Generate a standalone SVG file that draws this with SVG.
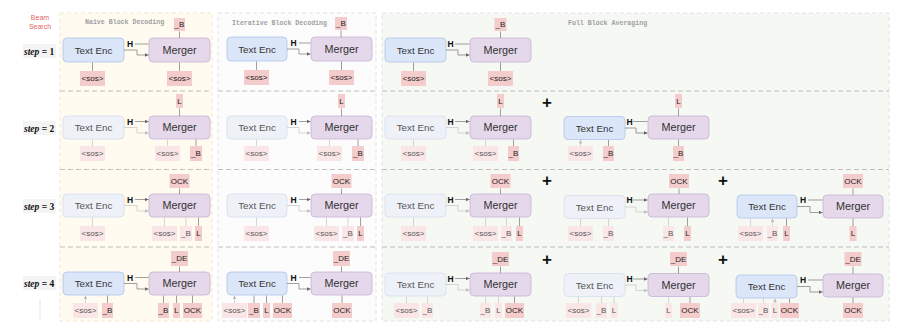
<svg xmlns="http://www.w3.org/2000/svg" width="909" height="329" viewBox="0 0 909 329">
<defs>
<marker id="a" viewBox="0 0 6 6" refX="6" refY="3" markerWidth="3.6" markerHeight="3.6" markerUnits="userSpaceOnUse" orient="auto"><path d="M0,0L6,3L0,6z" fill="#666"/></marker>
<marker id="af" viewBox="0 0 6 6" refX="6" refY="3" markerWidth="3.6" markerHeight="3.6" markerUnits="userSpaceOnUse" orient="auto"><path d="M0,0L6,3L0,6z" fill="#bbb"/></marker>
</defs>
<style>
.te{fill:#dbe6f8;stroke:#aec4ea;stroke-width:.8}
.tef{fill:#eef2f8;stroke:#d3deec;stroke-width:.8}
.mg{fill:#e4d8ea;stroke:#c7b3d5;stroke-width:.8}
.tk{fill:#f4cccc}
.tkf{fill:#fae6e6}
.nl{font-family:"Liberation Sans",Arial,sans-serif;font-size:9.8px;fill:#333;text-anchor:middle}
.nf{fill:#555}
.ml{font-size:10.8px}
.t{font-family:"Liberation Sans",Arial,sans-serif;font-size:8px;fill:#222;text-anchor:middle}
.tf{fill:#555}
.ar{stroke:#777;stroke-width:.7;fill:none;marker-end:url(#a)}
.arf{stroke:#c4c4c4;stroke-width:.7;fill:none;marker-end:url(#af)}
.h{font-family:"Liberation Sans",Arial,sans-serif;font-weight:bold;font-size:8.5px;fill:#111;text-anchor:middle}
.pt{font-family:"Liberation Mono","Courier New",monospace;font-weight:bold;font-size:6.6px;fill:#a0a0a0}
.div{stroke:#b0b0b0;stroke-width:.8;stroke-dasharray:5,3;fill:none}
.st{font-family:"Liberation Serif","Times New Roman",serif;font-weight:bold;font-size:9.5px;fill:#111}
.plus{font-family:"Liberation Sans",Arial,sans-serif;font-weight:bold;font-size:17px;fill:#111;text-anchor:middle}
.bs{font-family:"Liberation Sans",Arial,sans-serif;font-size:7px;fill:#e46464;text-anchor:middle}
</style>
<rect width="909" height="329" fill="#fff"/>
<g id="panels">
<rect x="60" y="13" width="152" height="308" fill="#fffbf1" stroke="#f1e2c2" stroke-width=".8" stroke-dasharray="4,3"/>
<rect x="218" y="13" width="158" height="308" fill="#fcfcfc" stroke="#dcdcdc" stroke-width=".8" stroke-dasharray="4,3"/>
<rect x="382" y="13" width="507" height="308" fill="#f6f8f4" stroke="#dcdcdc" stroke-width=".8" stroke-dasharray="4,3"/>
<text class="pt" x="85" y="23.5">Naive Block Decoding</text>
<text class="pt" x="232" y="25">Iterative Block Decoding</text>
<text class="pt" x="568" y="25">Full Block Averaging</text>
<path class="div" d="M60,91H212M60,169.5H212M60,247H212M218,91H376M218,169.5H376M218,247H376M382,91H889M382,169.5H889M382,247H889"/>
</g>
<g id="labels">
<text class="bs" x="40" y="20.3">Beam</text>
<text class="bs" x="40" y="28.6">Search</text>
<rect x="23" y="44" width="33" height="14" fill="#f4f4f4"/>
<rect x="23" y="121" width="33" height="14" fill="#f4f4f4"/>
<rect x="23" y="199" width="33" height="14" fill="#f4f4f4"/>
<rect x="23" y="276" width="33" height="14" fill="#f4f4f4"/>
<text class="st" x="24" y="54.5"><tspan font-style="italic">step</tspan> = 1</text>
<text class="st" x="24" y="131.5"><tspan font-style="italic">step</tspan> = 2</text>
<text class="st" x="24" y="209.5"><tspan font-style="italic">step</tspan> = 3</text>
<text class="st" x="24" y="286.5"><tspan font-style="italic">step</tspan> = 4</text>
<path d="M40,300V320" stroke="#bbb" stroke-width="1" stroke-dasharray="1,1.5"/>
<text class="plus" x="547" y="108">+</text>
<text class="plus" x="547" y="186">+</text>
<text class="plus" x="723" y="186">+</text>
<text class="plus" x="547" y="265">+</text>
<text class="plus" x="723" y="265">+</text>
</g>

<g id="r1n-te"><rect class="te" x="63" y="38" width="61" height="24" rx="4"/><text class="nl" x="93.5" y="53.5">Text Enc</text></g>
<g id="r1n-m"><rect class="mg" x="149" y="38" width="61" height="24" rx="4"/><text class="nl ml" x="179.5" y="53.8">Merger</text></g>
<g id="r1n-o"><rect class="tk" x="174" y="18" width="11" height="13"/><text class="t" x="179.5" y="27.4">_B</text></g>
<g id="r1n-i1"><rect class="tk" x="80" y="71" width="25" height="15"/><text class="t" x="92.5" y="81.4">&lt;sos&gt;</text></g>
<g id="r1n-i2"><rect class="tk" x="167" y="71" width="25" height="15"/><text class="t" x="179.5" y="81.4">&lt;sos&gt;</text></g>

<g id="r1i-te"><rect class="te" x="227" y="37" width="60" height="24" rx="4"/><text class="nl" x="257" y="52.5">Text Enc</text></g>
<g id="r1i-m"><rect class="mg" x="311" y="37" width="61" height="24" rx="4"/><text class="nl ml" x="341.5" y="52.8">Merger</text></g>
<g id="r1i-o"><rect class="tk" x="335" y="17" width="12" height="13"/><text class="t" x="341" y="26.4">_B</text></g>
<g id="r1i-i1"><rect class="tk" x="244" y="70" width="25" height="15"/><text class="t" x="256.5" y="80.4">&lt;sos&gt;</text></g>
<g id="r1i-i2"><rect class="tk" x="329" y="70" width="25" height="15"/><text class="t" x="341.5" y="80.4">&lt;sos&gt;</text></g>

<g id="r1f-te"><rect class="te" x="385" y="38" width="61" height="24" rx="4"/><text class="nl" x="415.5" y="53.5">Text Enc</text></g>
<g id="r1f-m"><rect class="mg" x="470" y="38" width="61" height="24" rx="4"/><text class="nl ml" x="500.5" y="53.8">Merger</text></g>
<g id="r1f-o"><rect class="tk" x="494.5" y="18" width="12" height="13"/><text class="t" x="500.5" y="27.4">_B</text></g>
<g id="r1f-i1"><rect class="tk" x="401" y="71" width="25" height="15"/><text class="t" x="413.5" y="81.4">&lt;sos&gt;</text></g>
<g id="r1f-i2"><rect class="tk" x="488" y="71" width="25" height="15"/><text class="t" x="500.5" y="81.4">&lt;sos&gt;</text></g>

<g id="r2n-te"><rect class="tef" x="63" y="116" width="61" height="23" rx="4"/><text class="nl nf" x="93.5" y="131">Text Enc</text></g>
<g id="r2n-m"><rect class="mg" x="149" y="116" width="61" height="23" rx="4"/><text class="nl ml" x="179.5" y="131.3">Merger</text></g>
<g id="r2n-o"><rect class="tk" x="176" y="94" width="7" height="14"/><text class="t" x="179.5" y="103.9">L</text></g>
<g id="r2n-i1"><rect class="tkf" x="80" y="146" width="25" height="15"/><text class="t tf" x="92.5" y="156.4">&lt;sos&gt;</text></g>
<g id="r2n-i2"><rect class="tkf" x="155" y="146" width="25" height="15"/><text class="t tf" x="167.5" y="156.4">&lt;sos&gt;</text></g>
<g id="r2n-i3"><rect class="tk" x="190" y="146" width="12" height="15"/><text class="t" x="196" y="156.4">_B</text></g>

<g id="r2i-te"><rect class="tef" x="227" y="116" width="60" height="23" rx="4"/><text class="nl nf" x="257" y="131">Text Enc</text></g>
<g id="r2i-m"><rect class="mg" x="311" y="116" width="61" height="23" rx="4"/><text class="nl ml" x="341.5" y="131.3">Merger</text></g>
<g id="r2i-o"><rect class="tk" x="338" y="94" width="7" height="14"/><text class="t" x="341.5" y="103.9">L</text></g>
<g id="r2i-i1"><rect class="tkf" x="244" y="146" width="25" height="15"/><text class="t tf" x="256.5" y="156.4">&lt;sos&gt;</text></g>
<g id="r2i-i2"><rect class="tkf" x="317" y="146" width="25" height="15"/><text class="t tf" x="329.5" y="156.4">&lt;sos&gt;</text></g>
<g id="r2i-i3"><rect class="tk" x="352" y="146" width="12" height="15"/><text class="t" x="358" y="156.4">_B</text></g>

<g id="r2f1-te"><rect class="tef" x="385" y="116" width="61" height="23" rx="4"/><text class="nl nf" x="415.5" y="131">Text Enc</text></g>
<g id="r2f1-m"><rect class="mg" x="470" y="116" width="61" height="23" rx="4"/><text class="nl ml" x="500.5" y="131.3">Merger</text></g>
<g id="r2f1-o"><rect class="tk" x="497" y="94" width="7" height="14"/><text class="t" x="500.5" y="103.9">L</text></g>
<g id="r2f1-i1"><rect class="tkf" x="401" y="146" width="25" height="15"/><text class="t tf" x="413.5" y="156.4">&lt;sos&gt;</text></g>
<g id="r2f1-i2"><rect class="tkf" x="473" y="146" width="25" height="15"/><text class="t tf" x="485.5" y="156.4">&lt;sos&gt;</text></g>
<g id="r2f1-i3"><rect class="tk" x="508" y="146" width="11" height="15"/><text class="t" x="513.5" y="156.4">_B</text></g>

<g id="r2f2-te"><rect class="te" x="564" y="116.5" width="61" height="23" rx="4"/><text class="nl" x="594.5" y="131.5">Text Enc</text></g>
<g id="r2f2-m"><rect class="mg" x="648" y="116" width="61" height="23" rx="4"/><text class="nl ml" x="678.5" y="131.3">Merger</text></g>
<g id="r2f2-o"><rect class="tk" x="675" y="94" width="7" height="14"/><text class="t" x="678.5" y="103.9">L</text></g>
<g id="r2f2-i1"><rect class="tkf" x="568" y="146" width="25" height="15"/><text class="t tf" x="580.5" y="156.4">&lt;sos&gt;</text></g>
<g id="r2f2-i2"><rect class="tk" x="603" y="146" width="11" height="15"/><text class="t" x="608.5" y="156.4">_B</text></g>
<g id="r2f2-i3"><rect class="tk" x="673" y="146" width="11" height="15"/><text class="t" x="678.5" y="156.4">_B</text></g>

<g id="r3n-te"><rect class="tef" x="63" y="194" width="61" height="23" rx="4"/><text class="nl nf" x="93.5" y="209">Text Enc</text></g>
<g id="r3n-m"><rect class="mg" x="149" y="194" width="61" height="23" rx="4"/><text class="nl ml" x="179.5" y="209.3">Merger</text></g>
<g id="r3n-o"><rect class="tk" x="169.5" y="174" width="20" height="14"/><text class="t" x="179.5" y="183.9">OCK</text></g>
<g id="r3n-i1"><rect class="tkf" x="80" y="226" width="25" height="15"/><text class="t tf" x="92.5" y="236.4">&lt;sos&gt;</text></g>
<g id="r3n-i2"><rect class="tkf" x="152" y="226" width="25" height="15"/><text class="t tf" x="164.5" y="236.4">&lt;sos&gt;</text></g>
<g id="r3n-i3"><rect class="tkf" x="180" y="226" width="12" height="15"/><text class="t tf" x="186" y="236.4">_B</text></g>
<g id="r3n-i4"><rect class="tk" x="195" y="226" width="7" height="15"/><text class="t" x="198.5" y="236.4">L</text></g>

<g id="r3i-te"><rect class="tef" x="227" y="194" width="60" height="23" rx="4"/><text class="nl nf" x="257" y="209">Text Enc</text></g>
<g id="r3i-m"><rect class="mg" x="311" y="194" width="61" height="23" rx="4"/><text class="nl ml" x="341.5" y="209.3">Merger</text></g>
<g id="r3i-o"><rect class="tk" x="331.5" y="174" width="20" height="14"/><text class="t" x="341.5" y="183.9">OCK</text></g>
<g id="r3i-i1"><rect class="tkf" x="244" y="226" width="25" height="15"/><text class="t tf" x="256.5" y="236.4">&lt;sos&gt;</text></g>
<g id="r3i-i2"><rect class="tkf" x="314" y="226" width="25" height="15"/><text class="t tf" x="326.5" y="236.4">&lt;sos&gt;</text></g>
<g id="r3i-i3"><rect class="tkf" x="342" y="226" width="12" height="15"/><text class="t tf" x="348" y="236.4">_B</text></g>
<g id="r3i-i4"><rect class="tk" x="357" y="226" width="7" height="15"/><text class="t" x="360.5" y="236.4">L</text></g>

<g id="r3f1-te"><rect class="tef" x="385" y="194" width="61" height="23" rx="4"/><text class="nl nf" x="415.5" y="209">Text Enc</text></g>
<g id="r3f1-m"><rect class="mg" x="470" y="194" width="61" height="23" rx="4"/><text class="nl ml" x="500.5" y="209.3">Merger</text></g>
<g id="r3f1-o"><rect class="tk" x="490.5" y="174" width="20" height="14"/><text class="t" x="500.5" y="183.9">OCK</text></g>
<g id="r3f1-i1"><rect class="tkf" x="401" y="226" width="25" height="15"/><text class="t tf" x="413.5" y="236.4">&lt;sos&gt;</text></g>
<g id="r3f1-i2"><rect class="tkf" x="473" y="226" width="25" height="15"/><text class="t tf" x="485.5" y="236.4">&lt;sos&gt;</text></g>
<g id="r3f1-i3"><rect class="tkf" x="501" y="226" width="11" height="15"/><text class="t tf" x="506.5" y="236.4">_B</text></g>
<g id="r3f1-i4"><rect class="tk" x="516" y="226" width="7" height="15"/><text class="t" x="519.5" y="236.4">L</text></g>

<g id="r3f2-te"><rect class="tef" x="564" y="195.5" width="61" height="23" rx="4"/><text class="nl nf" x="594.5" y="210.5">Text Enc</text></g>
<g id="r3f2-m"><rect class="mg" x="648" y="194" width="61" height="23" rx="4"/><text class="nl ml" x="678.5" y="209.3">Merger</text></g>
<g id="r3f2-o"><rect class="tk" x="669" y="174" width="20" height="14"/><text class="t" x="679" y="183.9">OCK</text></g>
<g id="r3f2-i1"><rect class="tkf" x="568" y="226" width="25" height="15"/><text class="t tf" x="580.5" y="236.4">&lt;sos&gt;</text></g>
<g id="r3f2-i2"><rect class="tkf" x="603" y="226" width="11" height="15"/><text class="t tf" x="608.5" y="236.4">_B</text></g>
<g id="r3f2-i3"><rect class="tkf" x="663" y="226" width="11" height="15"/><text class="t tf" x="668.5" y="236.4">_B</text></g>
<g id="r3f2-i4"><rect class="tk" x="684" y="226" width="7" height="15"/><text class="t" x="687.5" y="236.4">L</text></g>

<g id="r3f3-te"><rect class="te" x="737" y="195" width="60" height="23" rx="4"/><text class="nl" x="767" y="210">Text Enc</text></g>
<g id="r3f3-m"><rect class="mg" x="823" y="195" width="60" height="23" rx="4"/><text class="nl ml" x="853" y="210.3">Merger</text></g>
<g id="r3f3-o"><rect class="tk" x="843" y="174" width="20" height="14"/><text class="t" x="853" y="183.9">OCK</text></g>
<g id="r3f3-i1"><rect class="tkf" x="738" y="226" width="25" height="15"/><text class="t tf" x="750.5" y="236.4">&lt;sos&gt;</text></g>
<g id="r3f3-i2"><rect class="tkf" x="767" y="226" width="11" height="15"/><text class="t tf" x="772.5" y="236.4">_B</text></g>
<g id="r3f3-i3"><rect class="tk" x="783" y="226" width="7" height="15"/><text class="t" x="786.5" y="236.4">L</text></g>
<g id="r3f3-i4"><rect class="tk" x="849.5" y="226" width="7" height="15"/><text class="t" x="853" y="236.4">L</text></g>

<g id="r4n-te"><rect class="te" x="63" y="272" width="61" height="23" rx="4"/><text class="nl" x="93.5" y="287">Text Enc</text></g>
<g id="r4n-m"><rect class="mg" x="149" y="272" width="61" height="23" rx="4"/><text class="nl ml" x="179.5" y="287.3">Merger</text></g>
<g id="r4n-o"><rect class="tk" x="171" y="251" width="17" height="15"/><text class="t" x="179.5" y="261.4">_DE</text></g>
<g id="r4n-i1"><rect class="tkf" x="73" y="303" width="25" height="15"/><text class="t tf" x="85.5" y="313.4">&lt;sos&gt;</text></g>
<g id="r4n-i2"><rect class="tk" x="102" y="303" width="11" height="15"/><text class="t" x="107.5" y="313.4">_B</text></g>
<g id="r4n-i3"><rect class="tk" x="158" y="303" width="11" height="15"/><text class="t" x="163.5" y="313.4">_B</text></g>
<g id="r4n-i4"><rect class="tk" x="173" y="303" width="7" height="15"/><text class="t" x="176.5" y="313.4">L</text></g>
<g id="r4n-i5"><rect class="tk" x="183" y="303" width="19" height="15"/><text class="t" x="192.5" y="313.4">OCK</text></g>

<g id="r4i-te"><rect class="te" x="227" y="272" width="60" height="23" rx="4"/><text class="nl" x="257" y="287">Text Enc</text></g>
<g id="r4i-m"><rect class="mg" x="311" y="272" width="61" height="23" rx="4"/><text class="nl ml" x="341.5" y="287.3">Merger</text></g>
<g id="r4i-o"><rect class="tk" x="333" y="251" width="17" height="15"/><text class="t" x="341.5" y="261.4">_DE</text></g>
<g id="r4i-i1"><rect class="tkf" x="222" y="303" width="25" height="15"/><text class="t tf" x="234.5" y="313.4">&lt;sos&gt;</text></g>
<g id="r4i-i2"><rect class="tk" x="248" y="303" width="12" height="15"/><text class="t" x="254" y="313.4">_B</text></g>
<g id="r4i-i3"><rect class="tk" x="263" y="303" width="7" height="15"/><text class="t" x="266.5" y="313.4">L</text></g>
<g id="r4i-i4"><rect class="tk" x="273" y="303" width="19" height="15"/><text class="t" x="282.5" y="313.4">OCK</text></g>
<g id="r4i-i5"><rect class="tk" x="332" y="303" width="20" height="15"/><text class="t" x="342" y="313.4">OCK</text></g>

<g id="r4f1-te"><rect class="tef" x="385" y="273" width="61" height="23" rx="4"/><text class="nl nf" x="415.5" y="288">Text Enc</text></g>
<g id="r4f1-m"><rect class="mg" x="470" y="273" width="61" height="23" rx="4"/><text class="nl ml" x="500.5" y="288.3">Merger</text></g>
<g id="r4f1-o"><rect class="tk" x="492" y="252" width="17" height="14"/><text class="t" x="500.5" y="261.9">_DE</text></g>
<g id="r4f1-i1"><rect class="tkf" x="394" y="303" width="25" height="15"/><text class="t tf" x="406.5" y="313.4">&lt;sos&gt;</text></g>
<g id="r4f1-i2"><rect class="tkf" x="422" y="303" width="11" height="15"/><text class="t tf" x="427.5" y="313.4">_B</text></g>
<g id="r4f1-i3"><rect class="tkf" x="480" y="303" width="11" height="15"/><text class="t tf" x="485.5" y="313.4">_B</text></g>
<g id="r4f1-i4"><rect class="tkf" x="495" y="303" width="7" height="15"/><text class="t tf" x="498.5" y="313.4">L</text></g>
<g id="r4f1-i5"><rect class="tk" x="505" y="303" width="19" height="15"/><text class="t" x="514.5" y="313.4">OCK</text></g>

<g id="r4f2-te"><rect class="tef" x="564" y="273.5" width="61" height="23" rx="4"/><text class="nl nf" x="594.5" y="288.5">Text Enc</text></g>
<g id="r4f2-m"><rect class="mg" x="648" y="273.5" width="61" height="23" rx="4"/><text class="nl ml" x="678.5" y="288.8">Merger</text></g>
<g id="r4f2-o"><rect class="tk" x="670" y="252" width="17" height="14"/><text class="t" x="678.5" y="261.9">_DE</text></g>
<g id="r4f2-i1"><rect class="tkf" x="566" y="303" width="25" height="15"/><text class="t tf" x="578.5" y="313.4">&lt;sos&gt;</text></g>
<g id="r4f2-i2"><rect class="tkf" x="596" y="303" width="11" height="15"/><text class="t tf" x="601.5" y="313.4">_B</text></g>
<g id="r4f2-i3"><rect class="tkf" x="610.5" y="303" width="7" height="15"/><text class="t tf" x="614" y="313.4">L</text></g>
<g id="r4f2-i4"><rect class="tkf" x="665" y="303" width="7" height="15"/><text class="t tf" x="668.5" y="313.4">L</text></g>
<g id="r4f2-i5"><rect class="tk" x="680" y="303" width="20" height="15"/><text class="t" x="690" y="313.4">OCK</text></g>

<g id="r4f3-te"><rect class="te" x="736" y="275" width="61" height="23" rx="4"/><text class="nl" x="766.5" y="290">Text Enc</text></g>
<g id="r4f3-m"><rect class="mg" x="823" y="274" width="60" height="23" rx="4"/><text class="nl ml" x="853" y="289.3">Merger</text></g>
<g id="r4f3-o"><rect class="tk" x="844.5" y="252" width="17" height="14"/><text class="t" x="853" y="261.9">_DE</text></g>
<g id="r4f3-i1"><rect class="tkf" x="731" y="303" width="25" height="15"/><text class="t tf" x="743.5" y="313.4">&lt;sos&gt;</text></g>
<g id="r4f3-i2"><rect class="tkf" x="758" y="303" width="11" height="15"/><text class="t tf" x="763.5" y="313.4">_B</text></g>
<g id="r4f3-i3"><rect class="tkf" x="771.5" y="303" width="7" height="15"/><text class="t tf" x="775" y="313.4">L</text></g>
<g id="r4f3-i4"><rect class="tk" x="780" y="303" width="19" height="15"/><text class="t" x="789.5" y="313.4">OCK</text></g>
<g id="r4f3-i5"><rect class="tk" x="843" y="303" width="20" height="15"/><text class="t" x="853" y="313.4">OCK</text></g>

<g id="connectors">
<path class="ar" d="M179.5,38V31.5M92.5,71V62.5M179.5,71V62.5M135,44H148.5M124,50H137V55H148.5"/>
<path class="ar" d="M341,37V30.5M256.5,70V61.5M341.5,70V61.5M299,43H310.5M287,49H299V54H310.5"/>
<path class="ar" d="M500.5,38V31.5M413.5,71V62.5M500.5,71V62.5M455,44H469.5M446,50H458V55H469.5"/>
<path class="ar" d="M179.5,116V108.5M196,146V139.5M135,121.5H148.5"/>
<path class="arf" d="M92.5,146V139.5M167.5,146V139.5M124,127.5H137V133H148.5"/>
<path class="ar" d="M341.5,116V108.5M358,146V139.5M299,121.5H310.5"/>
<path class="arf" d="M256.5,146V139.5M329.5,146V139.5M287,127.5H299V133H310.5"/>
<path class="ar" d="M500.5,116V108.5M513.5,146V139.5M455,121.5H469.5"/>
<path class="arf" d="M413.5,146V139.5M485.5,146V139.5M446,127.5H458V133H469.5"/>
<path class="ar" d="M678.5,116V108.5M608.5,146V140M678.5,146V139.5M633,121.5H647.5M625,128H636V133H647.5"/>
<path class="arf" d="M580.5,146V140"/>
<path class="ar" d="M179.5,194V188.5M198.5,226V217.5M135,199.5H148.5"/>
<path class="arf" d="M92.5,226V217.5M164.5,226V217.5M186,226V217.5M124,205.5H137V211H148.5"/>
<path class="ar" d="M341.5,194V188.5M360.5,226V217.5M299,199.5H310.5"/>
<path class="arf" d="M256.5,226V217.5M326.5,226V217.5M348,226V217.5M287,205.5H299V211H310.5"/>
<path class="ar" d="M500.5,194V188.5M519.5,226V217.5M455,199.5H469.5"/>
<path class="arf" d="M413.5,226V217.5M485.5,226V217.5M506.5,226V217.5M446,205.5H458V211H469.5"/>
<path class="ar" d="M679,194V188.5M687.5,226V217.5M633,200H647.5"/>
<path class="arf" d="M580.5,226V219M608.5,226V219M668.5,226V217.5M625,207H636V212H647.5"/>
<path class="ar" d="M853,195V188.5M786.5,226V218.5M853,226V218.5M808,200H822.5M797,206.5H810V212.5H822.5"/>
<path class="arf" d="M750.5,226V218.5M772.5,226V218.5"/>
<path class="ar" d="M179.5,272V266.5M107.5,303V295.5M163.5,303V295.5M176.5,303V295.5M192.5,303V295.5M135,277.5H148.5M124,283.5H137V289H148.5"/>
<path class="arf" d="M85.5,303V295.5"/>
<path class="ar" d="M341.5,272V266.5M254,303V295.5M266.5,303V295.5M282.5,303V295.5M342,303V295.5M299,277.5H310.5M287,283.5H299V289H310.5"/>
<path class="arf" d="M234.5,303V295.5"/>
<path class="ar" d="M500.5,273V266.5M514.5,303V296.5M455,278.5H469.5"/>
<path class="arf" d="M406.5,303V296.5M427.5,303V296.5M485.5,303V296.5M498.5,303V296.5M446,284.5H458V290H469.5"/>
<path class="ar" d="M678.5,273.5V266.5M690,303V297M633,279H647.5"/>
<path class="arf" d="M578.5,303V297M601.5,303V297M614,303V297M668.5,303V297M625,285H636V290.5H647.5"/>
<path class="ar" d="M853,274V266.5M789.5,303V298.5M853,303V297.5M808,280H822.5M797,286.5H810V292H822.5"/>
<path class="arf" d="M743.5,303V298.5M763.5,303V298.5M775,303V298.5"/>
<text class="h" x="130" y="47">H</text>
<text class="h" x="293.5" y="46">H</text>
<text class="h" x="450.5" y="47">H</text>
<text class="h" x="130" y="124.5">H</text>
<text class="h" x="293.5" y="124.5">H</text>
<text class="h" x="450.5" y="124.5">H</text>
<text class="h" x="629.5" y="124.5">H</text>
<text class="h" x="130" y="202.5">H</text>
<text class="h" x="293.5" y="202.5">H</text>
<text class="h" x="450.5" y="202.5">H</text>
<text class="h" x="629.5" y="203">H</text>
<text class="h" x="803" y="203">H</text>
<text class="h" x="130" y="280.5">H</text>
<text class="h" x="293.5" y="280.5">H</text>
<text class="h" x="450.5" y="281.5">H</text>
<text class="h" x="629.5" y="282">H</text>
<text class="h" x="803" y="283">H</text>
</g>
</svg>
